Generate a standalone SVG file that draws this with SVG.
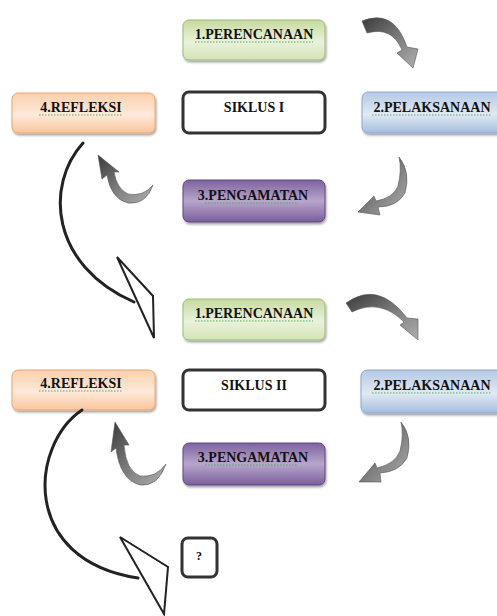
<svg xmlns="http://www.w3.org/2000/svg" width="497" height="616" viewBox="0 0 497 616">
<defs>
<linearGradient id="gGreen" x1="0" y1="0" x2="0" y2="1"><stop offset="0" stop-color="#c6da9f"/><stop offset="0.55" stop-color="#eaf2dc"/><stop offset="1" stop-color="#d3e2b5"/></linearGradient>
<linearGradient id="gOrange" x1="0" y1="0" x2="0" y2="1"><stop offset="0" stop-color="#fbd0ac"/><stop offset="0.55" stop-color="#feeadb"/><stop offset="1" stop-color="#f9c49b"/></linearGradient>
<linearGradient id="gBlue" x1="0" y1="0" x2="0" y2="1"><stop offset="0" stop-color="#b4c9e4"/><stop offset="0.55" stop-color="#e1e9f4"/><stop offset="1" stop-color="#a4bddd"/></linearGradient>
<linearGradient id="gPurple" x1="0" y1="0" x2="0" y2="1"><stop offset="0" stop-color="#7e62a0"/><stop offset="0.5" stop-color="#b7a6cc"/><stop offset="1" stop-color="#7b5e9c"/></linearGradient>
<linearGradient id="gArrow" x1="0" y1="0" x2="1" y2="1"><stop offset="0" stop-color="#3a3a3a"/><stop offset="0.5" stop-color="#7a7a7a"/><stop offset="1" stop-color="#b0b0b0"/></linearGradient>
<filter id="sh" x="-10%" y="-20%" width="120%" height="150%"><feDropShadow dx="1" dy="2" stdDeviation="1.2" flood-color="#000" flood-opacity="0.35"/></filter>
</defs>
<style>
.box{stroke-width:1;filter:url(#sh)}
.green{fill:url(#gGreen);stroke:#9fb97a}
.orange{fill:url(#gOrange);stroke:#e8a677}
.blue{fill:url(#gBlue);stroke:#8ea8c9}
.purple{fill:url(#gPurple);stroke:#5f4680}
.plain{fill:#fff;stroke:#333;stroke-width:3}
.t{font-family:"Liberation Serif","Times New Roman",serif;font-weight:bold;font-size:14px;fill:#111;text-anchor:middle}
.sq{stroke:#4caf50;stroke-width:1;stroke-dasharray:1.5 1.5;fill:none}
.garrow{fill:url(#gArrow);stroke:#555;stroke-width:0.6}
.curve{fill:none;stroke:#222;stroke-width:3;stroke-linecap:round}
.head{fill:#fff;stroke:#222;stroke-width:2;stroke-linejoin:miter}
</style>

<g id="perencanaan1"><rect class="box green" x="183" y="20" width="142" height="40" rx="6"/><text class="t" x="254" y="39">1.PERENCANAAN</text><line class="sq" x1="195" y1="42" x2="313" y2="42"/></g>
<g id="refleksi1"><rect class="box orange" x="12" y="93" width="143" height="40" rx="6"/><text class="t" x="81" y="112">4.REFLEKSI</text><line class="sq" x1="39" y1="115" x2="123" y2="115"/></g>
<g id="siklus1"><rect class="plain" x="183" y="92" width="142" height="41" rx="6"/><text class="t" x="254" y="112">SIKLUS I</text></g>
<g id="pelaksanaan1"><rect class="box blue" x="362" y="92" width="145" height="41" rx="6"/><text class="t" x="432" y="112">2.PELAKSANAAN</text><line class="sq" x1="372" y1="115" x2="492" y2="115"/></g>
<g id="pengamatan1"><rect class="box purple" x="183" y="180" width="142" height="42" rx="6"/><text class="t" x="253" y="200">3.PENGAMATAN</text><line class="sq" x1="205" y1="203" x2="298" y2="203"/></g>

<g id="perencanaan2"><rect class="box green" x="183" y="299" width="142" height="41" rx="6"/><text class="t" x="254" y="318">1.PERENCANAAN</text><line class="sq" x1="195" y1="321" x2="313" y2="321"/></g>
<g id="refleksi2"><rect class="box orange" x="12" y="370" width="143" height="40" rx="6"/><text class="t" x="81" y="388">4.REFLEKSI</text><line class="sq" x1="39" y1="391" x2="123" y2="391"/></g>
<g id="siklus2"><rect class="plain" x="183" y="370" width="142" height="40" rx="6"/><text class="t" x="254" y="390">SIKLUS II</text></g>
<g id="pelaksanaan2"><rect class="box blue" x="361" y="370" width="146" height="43" rx="6"/><text class="t" x="432" y="390">2.PELAKSANAAN</text><line class="sq" x1="372" y1="393" x2="492" y2="393"/></g>
<g id="pengamatan2"><rect class="box purple" x="183" y="443" width="142" height="42" rx="6"/><text class="t" x="253" y="462">3.PENGAMATAN</text><line class="sq" x1="205" y1="465" x2="298" y2="465"/></g>
<g id="tanya"><rect class="plain" x="182" y="538" width="35" height="39" rx="6"/><text class="t" x="199" y="560" style="font-size:12px">?</text></g>

<g id="connectors">
<!-- cycle 1 block arrows -->
<path class="garrow" d="M362,21 Q394,8 407,47 L418,49 L413,68 L397,53 L402,50 Q392,26 367,33 Z"/>
<path class="garrow" d="M399,157 Q411,172 405,193 Q397,207 378,207 L380,215 L358,212 L374,196 L376,201 Q393,198 398,186 Q402,170 399,157 Z"/>
<path class="garrow" d="M153,185 Q143,197 128,194 Q117,189 114,172 L119,172 L98,155 L102,179 L107,175 Q111,199 128,203 Q146,205 153,185 Z"/>
<!-- cycle 2 block arrows -->
<path class="garrow" d="M346,303 Q378,280 407,318 L418,319 L418,340 L400,325 L404,322 Q380,298 352,312 Z"/>
<path class="garrow" d="M401,422 Q413,437 407,458 Q399,472 380,473 L381,482 L359,482 L375,463 L377,468 Q395,464 400,451 Q404,435 401,422 Z"/>
<path class="garrow" d="M166,464 Q156,478 140,476 Q126,471 124,445 L129,445 L115,422 L111,452 L116,448 Q120,480 140,485 Q158,487 166,464 Z"/>
<!-- big outline arrows -->
<path class="curve" d="M83,143 C45,185 50,265 134,302"/>
<polygon class="head" points="117,257 153,296 154,338"/>
<path class="curve" d="M82,410 C30,445 20,560 138,578"/>
<polygon class="head" points="120,537 168,567 164,614"/>
</g>
</svg>
